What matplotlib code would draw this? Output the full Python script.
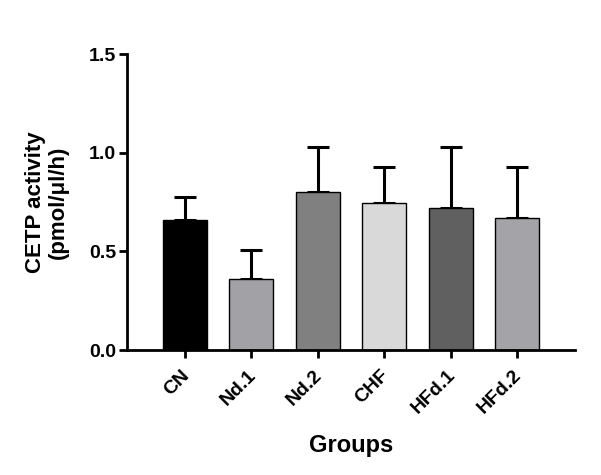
import numpy as np
import matplotlib
matplotlib.use("Agg")
import matplotlib.pyplot as plt
import matplotlib.transforms as mtransforms

plt.rcParams['font.family'] = ['Liberation Sans', 'DejaVu Sans']
plt.rcParams['font.weight'] = 'bold'

groups = ['CN', 'Nd.1', 'Nd.2', 'CHF', 'HFd.1', 'HFd.2']
means = [0.66, 0.36, 0.80, 0.745, 0.718, 0.672]
errs = [0.117, 0.147, 0.23, 0.185, 0.312, 0.257]
colors = ['#000000', '#a1a1a6', '#808080', '#d9d9d9', '#606060', '#a3a3a8']

fig = plt.figure(figsize=(6.01, 4.75), dpi=100)
ax = fig.add_axes([0.2113, 0.263, 0.7454, 0.623])

x = np.arange(len(groups))
ax.bar(x, means, width=0.66, color=colors, edgecolor='black', linewidth=1.0, zorder=2)
ax.errorbar(x, means, yerr=[np.zeros(len(errs)), errs], fmt='none', ecolor='black',
            elinewidth=2.2, capsize=8, capthick=2.2, zorder=1)

ax.set_xlim(-0.87, 5.87)
ax.set_ylim(0, 1.5)
ax.set_yticks([0.0, 0.5, 1.0, 1.5])
ax.set_yticklabels(['0.0', '0.5', '1.0', '1.5'])
ax.set_xticks(x)
ax.set_xticklabels(groups, rotation=45, ha='right', va='top', rotation_mode='anchor')

for s in ['top', 'right']:
    ax.spines[s].set_visible(False)
for s in ['left', 'bottom']:
    ax.spines[s].set_linewidth(2)
ax.tick_params(axis='both', width=2, length=6, labelsize=14)
ax.tick_params(axis='y', pad=2)
ax.tick_params(axis='x', pad=6)
shift = mtransforms.ScaledTranslation(-4 / 100, 0, fig.dpi_scale_trans)
for lab in ax.get_xticklabels():
    lab.set_transform(lab.get_transform() + shift)
for lab in ax.get_xticklabels() + ax.get_yticklabels():
    lab.set_fontweight('bold')

ax.set_ylabel('CETP activity\n(pmol/\u03bcl/h)', fontsize=16, fontweight='bold',
              labelpad=14, linespacing=1.15)
ax.set_xlabel('Groups', fontsize=17, fontweight='bold', labelpad=12)

plt.savefig('out.png', dpi=100)
